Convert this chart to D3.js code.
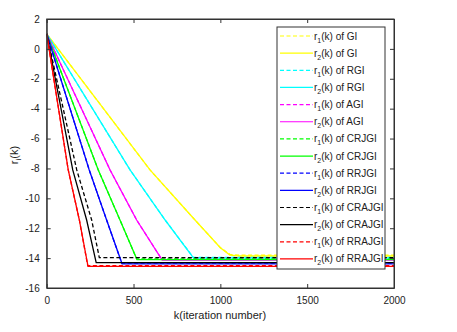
<!DOCTYPE html>
<html><head><meta charset="utf-8">
<script src="https://cdn.jsdelivr.net/npm/d3@7"></script>
<style>body{margin:0;background:#fff}svg{display:block}text{font-family:"Liberation Sans",Arial,sans-serif}</style>
</head><body><svg id="c" width="457" height="332"></svg>
<script>
const methods = ["GI","RGI","AGI","CRJGI","RRJGI","CRAJGI","RRAJGI"];
const methodColors = ["#ffff00","#00ffff","#ff00ff","#00ff00","#0000ff","#000000","#ff0000"];
const xTicks = [0,500,1000,1500,2000];
const yTicks = [2,0,-2,-4,-6,-8,-10,-12,-14,-16];
// [k, value] pairs
const GI_r1 = [[0,1],[595,-8.1],[854,-11.45],[1000,-13.3],[1055,-13.75],[1110,-13.8],[2000,-13.8]];
const GI_r2 = [[0,1],[595,-8.1],[854,-11.45],[1000,-13.3],[1055,-13.8],[1110,-13.86],[2000,-13.86]];
const RGI_r1 = [[0,1],[480,-8.1],[682,-11.45],[844,-13.95],[2000,-13.95]];
const RGI_r2 = [[0,1],[480,-8.1],[682,-11.45],[846,-14.0],[2000,-14.0]];
const AGI_r1 = [[0,1],[365,-8.1],[518,-11.45],[662,-14.07],[2000,-14.07]];
const AGI_r2 = [[0,1],[365,-8.1],[518,-11.45],[665,-14.14],[2000,-14.14]];
const CRJGI_r1 = [[0,1],[297,-8.1],[422,-11.45],[518,-14.05],[2000,-14.05]];
const CRJGI_r2 = [[0,1],[297,-8.1],[422,-11.45],[520,-14.1],[2000,-14.1]];
const RRJGI_r1 = [[0,1],[245,-8.1],[345,-11.45],[432,-14.33],[2000,-14.33]];
const RRJGI_r2 = [[0,1],[245,-8.1],[345,-11.45],[434,-14.38],[2000,-14.38]];
const CRAJGI_r1 = [[0,1],[173,-8.1],[259,-11.45],[303,-13.97],[2000,-13.97]];
const CRAJGI_r2 = [[0,1],[150,-8.1],[230,-11.45],[285,-14.3],[2000,-14.3]];
const RRAJGI_r1 = [[0,1],[124,-8.1],[188,-11.45],[236,-14.5],[2000,-14.5]];
const RRAJGI_r2 = [[0,1],[124,-8.1],[188,-11.45],[238,-14.55],[2000,-14.55]];

const series = [
  {m:0,i:1,d:GI_r1},{m:0,i:2,d:GI_r2},
  {m:1,i:1,d:RGI_r1},{m:1,i:2,d:RGI_r2},
  {m:2,i:1,d:AGI_r1},{m:2,i:2,d:AGI_r2},
  {m:3,i:1,d:CRJGI_r1},{m:3,i:2,d:CRJGI_r2},
  {m:4,i:1,d:RRJGI_r1},{m:4,i:2,d:RRJGI_r2},
  {m:5,i:1,d:CRAJGI_r1},{m:5,i:2,d:CRAJGI_r2},
  {m:6,i:1,d:RRAJGI_r1},{m:6,i:2,d:RRAJGI_r2}
];

const svg = d3.select("#c");
const L=46.7,R=394,T=19,B=288;
const x = d3.scaleLinear().domain([0,2000]).range([L,R]);
const y = d3.scaleLinear().domain([-16,2]).range([B,T]);

svg.append("clipPath").attr("id","cp").append("rect")
  .attr("x",L).attr("y",T).attr("width",R-L).attr("height",B-T);

const line = d3.line().x(d=>x(d[0])).y(d=>y(d[1]));
const g = svg.append("g").attr("clip-path","url(#cp)");
series.forEach(s=>{
  g.append("path").attr("d",line(s.d)).attr("fill","none")
   .attr("stroke",methodColors[s.m]).attr("stroke-width",1.3)
   .attr("stroke-dasharray", s.i===1 ? "4,2.5" : null);
});

// axes
const fs = 10;
const fmt = d3.format("d");
const axB = svg.append("g").attr("transform",`translate(0,${B})`)
  .call(d3.axisBottom(x).tickValues(xTicks).tickSizeInner(-4).tickSizeOuter(0).tickPadding(9).tickFormat(fmt));
const axT = svg.append("g").attr("transform",`translate(0,${T})`)
  .call(d3.axisTop(x).tickValues(xTicks).tickSizeInner(-4).tickSizeOuter(0).tickFormat(""));
const axL = svg.append("g").attr("transform",`translate(${L},0)`)
  .call(d3.axisLeft(y).tickValues(yTicks).tickSizeInner(-4).tickSizeOuter(0).tickPadding(7).tickFormat(d=>d<0?"-"+Math.abs(d):String(d)));
const axR = svg.append("g").attr("transform",`translate(${R},0)`)
  .call(d3.axisRight(y).tickValues(yTicks).tickSizeInner(-4).tickSizeOuter(0).tickFormat(""));
[axB,axT,axL,axR].forEach(a=>{
  a.selectAll("path").attr("stroke","#333");
  a.selectAll("line").attr("stroke","#333");
  a.selectAll("text").attr("font-size",fs).attr("fill","#222").attr("font-family",'"Liberation Sans",Arial,sans-serif');
});
svg.append("rect").attr("x",L).attr("y",T).attr("width",R-L).attr("height",B-T)
  .attr("fill","none").attr("stroke","#333").attr("stroke-width",1);

// labels
svg.append("text").attr("x",220).attr("y",319).attr("text-anchor","middle")
  .attr("font-size",11).attr("fill","#222").text("k(iteration number)");
const yl = svg.append("text").attr("transform","translate(18,155) rotate(-90)")
  .attr("text-anchor","middle").attr("font-size",11).attr("fill","#222");
yl.append("tspan").text("r");
yl.append("tspan").attr("font-size",8).attr("dy",3).text("i");
yl.append("tspan").attr("dy",-3).text("(k)");

// legend
const lg = svg.append("g");
lg.append("rect").attr("x",277).attr("y",27).attr("width",108).attr("height",242)
  .attr("fill","#fff").attr("stroke","#333").attr("stroke-width",1);
series.forEach((s,j)=>{
  const yy = 36 + j*17.15;
  lg.append("line").attr("x1",280).attr("x2",313).attr("y1",yy).attr("y2",yy)
    .attr("stroke",methodColors[s.m]).attr("stroke-width",1.2)
    .attr("stroke-dasharray", s.i===1 ? "4,2.5" : null);
  const t = lg.append("text").attr("x",314).attr("y",yy+3.5).attr("font-size",10).attr("fill","#222");
  t.append("tspan").text("r");
  t.append("tspan").attr("font-size",7).attr("dy",3).text(s.i);
  t.append("tspan").attr("dy",-3).text("(k) of "+methods[s.m]);
});
</script></body></html>
